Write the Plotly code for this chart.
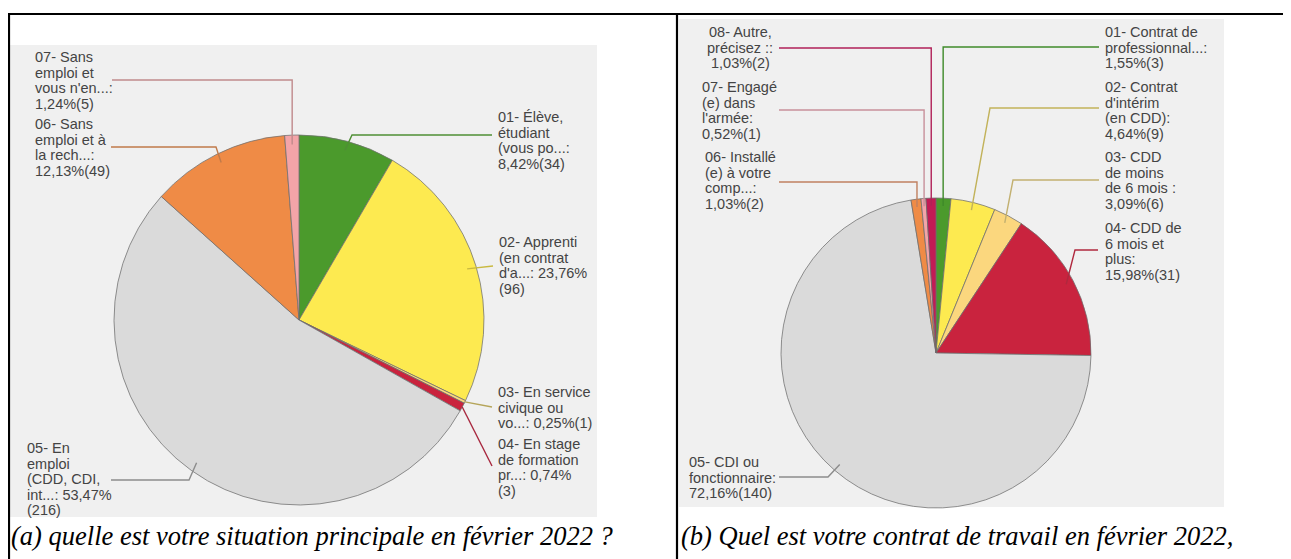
import math
import plotly.graph_objects as go

# page is 1291x559 but the HTML body has an 8px margin -> figure is offset by 8px
OFF = 8
FW, FH = 1291 - OFF, 559 - OFF

# ---------------- data : panel (a) ----------------
cats_a = ["01- Élève, étudiant", "02- Apprenti", "03- En service civique",
          "04- En stage de formation", "05- En emploi", "06- Sans emploi et à la recherche",
          "07- Sans emploi et vous n'en cherchez pas"]
counts_a = [34, 96, 1, 3, 216, 49, 5]
labels_a = [
    ["01- Élève,", "étudiant", "(vous po...:", "8,42%(34)"],
    ["02- Apprenti", "(en contrat", "d'a...: 23,76%", "(96)"],
    ["03- En service", "civique ou", "vo...: 0,25%(1)"],
    ["04- En stage", "de formation", "pr...: 0,74%", "(3)"],
    ["05- En", "emploi", "(CDD, CDI,", "int...: 53,47%", "(216)"],
    ["06- Sans", "emploi et à", "la rech...:", "12,13%(49)"],
    ["07- Sans", "emploi et", "vous n'en...:", "1,24%(5)"],
]
colors_a = ["#4b9a2c", "#fdea50", "#fbd77e", "#c9233e", "#dadada", "#ef8b46", "#f3a4a8"]
lead_a = ["#4f8f35", "#c9b940", "#b5a55a", "#a8283f", "#8c8c8c", "#c07a4a", "#c08a8c"]

# ---------------- data : panel (b) ----------------
cats_b = ["01- Contrat de professionnalisation", "02- Contrat d'intérim", "03- CDD de moins de 6 mois",
          "04- CDD de 6 mois et plus", "05- CDI ou fonctionnaire", "06- Installé(e) à votre compte",
          "07- Engagé(e) dans l'armée", "08- Autre"]
counts_b = [3, 9, 6, 31, 140, 2, 1, 2]
labels_b = [
    ["01- Contrat de", "professionnal...:", "1,55%(3)"],
    ["02- Contrat", "d'intérim", "(en CDD):", "4,64%(9)"],
    ["03- CDD", "de moins", "de 6 mois :", "3,09%(6)"],
    ["04- CDD de", "6 mois et", "plus:", "15,98%(31)"],
    ["05- CDI ou", "fonctionnaire:", "72,16%(140)"],
    ["06- Installé", "(e) à votre", "comp...:", "1,03%(2)"],
    ["07- Engagé", "(e) dans", "l'armée:", "0,52%(1)"],
    ["08- Autre,", "précisez ::", "1,03%(2)"],
]
colors_b = ["#4b9a2c", "#fdea50", "#fbd77e", "#c9233e", "#dadada", "#ef8b46", "#f3a4a8", "#c21b55"]
lead_b = ["#3f8a2a", "#c2b25a", "#c2b070", "#b0283e", "#8c8c8c", "#c08060", "#c8909a", "#b02058"]

captions = ["(a) quelle est votre situation principale en février 2022 ?",
            "(b) Quel est votre contrat de travail en février 2022,"]

# ---------------- layout (page-pixel geometry) ----------------
PIE_A = (299, 320, 185)
PIE_B = (936, 353, 155)
# per slice: anchor radius factor, bend ('v' = vertical to end y, None, or (x,y)), end point,
#            label x, label anchor, first line y, line step
route_a = [
    (0.95, (352, 135), (492, 135), 496, "left", 117, 15.6),
    (0.95, None, (493, 266), 497, "left", 242, 15.6),
    (1.00, None, (492, 407), 496, "left", 392, 15.6),
    (1.00, None, (492, 466), 496, "left", 444, 15.6),
    (0.95, (189, 480), (111, 480), 25, "left", 448, 15.6),
    (0.95, (216, 147), (111, 147), 33, "left", 124, 15.6),
    (0.95, "v", (112, 80), 33, "left", 57, 15.6),
]
route_b = [
    (0.95, "v", (1099, 47), 1103, "left", 32, 15.7),
    (0.95, (990, 108), (1099, 108), 1103, "left", 87, 15.7),
    (0.95, (1013, 180), (1099, 180), 1103, "left", 157, 15.7),
    (0.95, (1075, 250), (1098, 250), 1103, "left", 228, 15.7),
    (0.95, (828, 477), (779, 477), 687, "left", 462, 15.6),
    (0.95, "v", (779, 182), 703, "left", 157, 15.7),
    (0.95, "v", (779, 110), 700, "left", 87, 15.7),
    (0.95, "v", (779, 48), 740, "center", 32, 15.7),
]


def px(x):
    return (x - OFF) / FW


def py(y):
    return 1 - (y - OFF) / FH


fig = go.Figure()
shapes = []
annotations = []

# light grey backgrounds of the two chart screenshots
shapes.append(dict(type="rect", xref="paper", yref="paper", x0=px(9), x1=px(597), y0=py(517), y1=py(45),
                   fillcolor="#f0f0f0", line=dict(width=0), layer="below"))
shapes.append(dict(type="rect", xref="paper", yref="paper", x0=px(679), x1=px(1224), y0=py(507), y1=py(19),
                   fillcolor="#f0f0f0", line=dict(width=0), layer="below"))

# table frame lines
for x0, y0, x1, y1 in [(8, 14, 1291, 14), (9, 14, 9, 559), (677, 14, 677, 559)]:
    shapes.append(dict(type="line", xref="paper", yref="paper", x0=px(x0), y0=py(y0), x1=px(x1), y1=py(y1),
                       line=dict(color="black", width=2.2), layer="above"))


def add_panel(cats, counts, colors, leads, labels, routes, pie):
    cx, cy, R = pie
    fig.add_trace(go.Pie(
        labels=cats, values=counts, sort=False, direction="clockwise", rotation=0,
        marker=dict(colors=colors, line=dict(color="rgba(110,110,110,0.75)", width=1)),
        textinfo="none", hoverinfo="skip", showlegend=False,
        domain=dict(x=[px(cx - R), px(cx + R)], y=[py(cy + R), py(cy - R)]),
    ))
    total = float(sum(counts))
    cum = 0.0
    for i, c in enumerate(counts):
        mid = (cum + c / 2.0) / total * 2 * math.pi
        cum += c
        f, bend, end, lx, lanchor, ly0, step = routes[i]
        ax = cx + f * R * math.sin(mid)
        ay = cy - f * R * math.cos(mid)
        pts = [(ax, ay)]
        if bend == "v":
            pts.append((ax, end[1]))
        elif bend is not None:
            pts.append(bend)
        pts.append(end)
        path = "M " + " L ".join(f"{px(x):.5f},{py(y):.5f}" for x, y in pts)
        shapes.append(dict(type="path", xref="paper", yref="paper", path=path,
                           line=dict(color=leads[i], width=1.4), layer="above"))
        for j, t in enumerate(labels[i]):
            annotations.append(dict(
                x=px(lx), y=py(ly0 + j * step), xref="paper", yref="paper",
                text=t, showarrow=False, xanchor=lanchor, yanchor="middle",
                font=dict(family="Liberation Sans, Arial, sans-serif", size=14.5, color="#444444"),
            ))


add_panel(cats_a, counts_a, colors_a, lead_a, labels_a, route_a, PIE_A)
add_panel(cats_b, counts_b, colors_b, lead_b, labels_b, route_b, PIE_B)

for x, t in zip([9, 679], captions):
    annotations.append(dict(
        x=px(x), y=py(536), xref="paper", yref="paper", text=t, showarrow=False,
        xanchor="left", yanchor="middle",
        font=dict(family="Liberation Serif, Times New Roman, serif", size=26.5, color="black", style="italic"),
    ))

fig.update_layout(
    width=FW, height=FH, margin=dict(l=0, r=0, t=0, b=0),
    paper_bgcolor="white", plot_bgcolor="white",
    shapes=shapes, annotations=annotations, showlegend=False,
)

fig.write_html("out.html")
